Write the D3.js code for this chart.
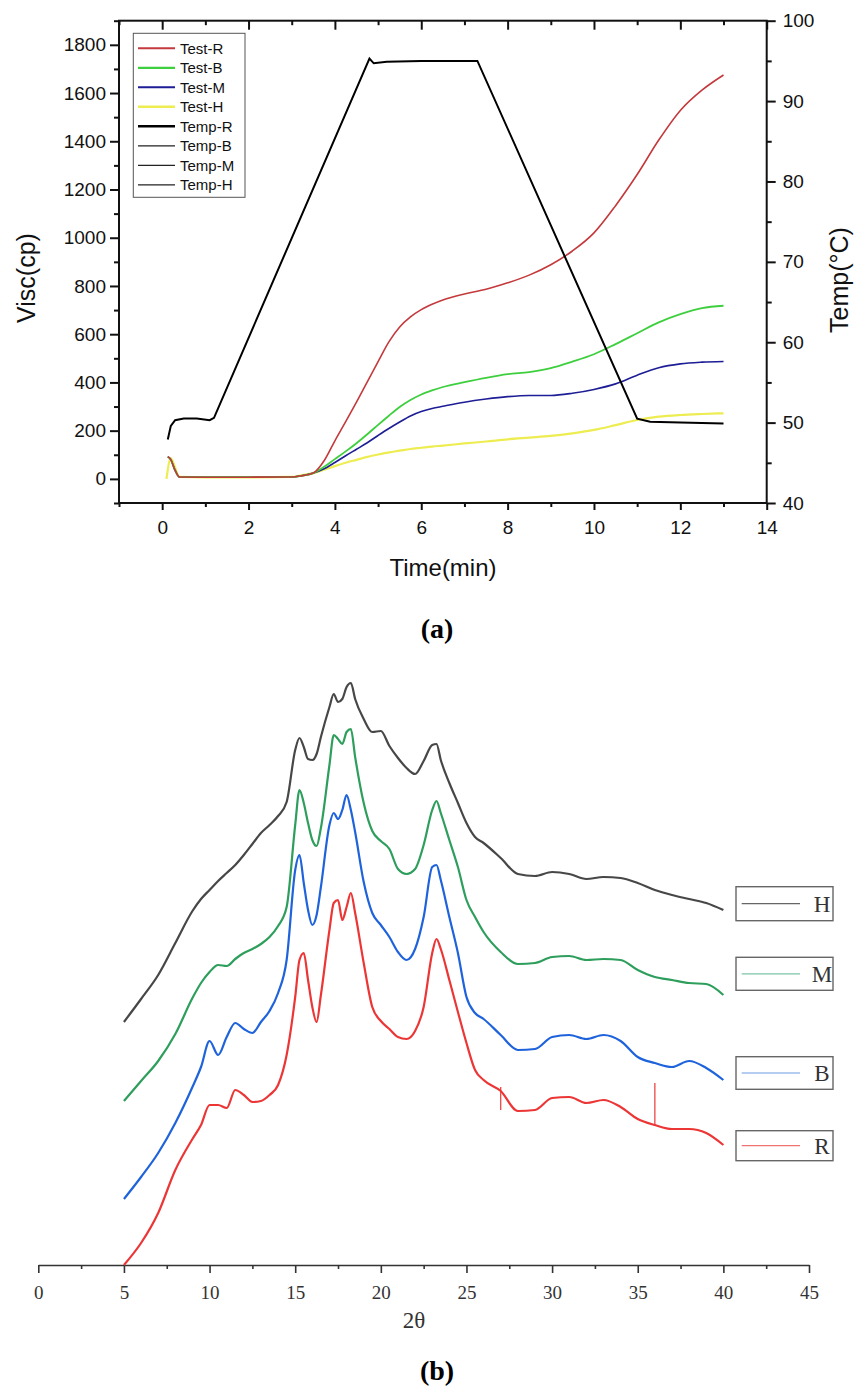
<!DOCTYPE html>
<html><head><meta charset="utf-8">
<script src="https://cdn.jsdelivr.net/npm/d3@7"></script>
<style>body{margin:0;background:#fff}svg{display:block}</style>
</head><body>
<svg id="chart" width="856" height="1387"></svg>
<script>
// ---------- Panel (a): viscosity / temperature ----------
const timeTest = [0.13,0.2,0.3,0.4,1,2,3,3.2,3.5,3.75,4.0,4.25,4.5,4.75,5.0,5.25,5.5,5.75,6.0,6.25,6.5,7.0,7.5,8.0,8.5,9.0,9.5,10.0,10.5,11.0,11.5,12.0,12.5,13.0];
const viscR = [92,80,35,8,7,7,8,12,24,75,158,237,318,402,486,568,630,672,702,724,742,767,786,813,845,888,945,1020,1133,1262,1405,1528,1612,1675];
const viscB = [92,80,35,8,7,7,8,12,24,50,82,114,148,185,224,262,298,327,350,367,381,401,419,434,443,459,486,517,559,604,649,683,708,718];
const viscM = [92,80,35,8,7,7,8,12,24,42,68,96,123,150,180,209,236,261,279,292,301,318,331,341,346,346,355,371,394,430,461,477,484,487];
const timeH = [0.1,0.2,0.25,0.4,1,2,3,3.2,3.5,3.75,4.0,4.25,4.5,4.75,5.0,5.25,5.5,5.75,6.0,6.25,6.5,7.0,7.5,8.0,8.5,9.0,9.5,10.0,10.5,11.0,11.5,12.0,12.5,13.0];
const viscH = [0,86,70,8,6,6,8,14,24,38,53,67,79,91,101,110,117,124,129,134,138,147,155,164,171,178,189,203,223,244,258,265,269,272];
const timeTemp = [0.13,0.2,0.3,0.5,0.8,1.1,1.2,4.8,4.9,5.2,6.0,7.3,11.0,11.3,12.0,13.0];
const tempR = [47.9,49.6,50.3,50.5,50.5,50.3,50.6,95.3,94.7,94.9,95.0,95.0,50.5,50.1,50.0,49.9];
const timeTicks = [0,2,4,6,8,10,12,14];
const timeMinor = [-1,1,3,5,7,9,11,13];
const viscTicks = [0,200,400,600,800,1000,1200,1400,1600,1800];
const viscMinor = [-100,100,300,500,700,900,1100,1300,1500,1700,1900];
const tempTicks = [40,50,60,70,80,90,100];
const tempMinor = [45,55,65,75,85,95];
const legendA = ["Test-R","Test-B","Test-M","Test-H","Temp-R","Temp-B","Temp-M","Temp-H"];

// ---------- Panel (b): XRD ----------
const theta = [5,6,7,8,9,9.5,10,10.5,11,11.5,12,12.5,13,13.5,14,14.5,15,15.25,15.5,15.75,16,16.25,16.5,17,17.25,17.5,17.75,18,18.25,18.5,19,19.5,20,20.5,21,21.5,22,22.5,23,23.25,23.5,24,24.5,25,25.5,26,27,28,29,30,31,32,33,34,35,36,37,38,39,40];
const xrdH = [243,266,290,322,354,366,375,384,392,400,410,421,432,440,449,463,515,527,518,506,505,511,528,558,571,563,566,578,582,566,546,533,534,519,507,497,491,504,520,521,505,482,462,442,428,422,407,391,389,393,391,386,388,387,382,375,370,366,362,355];
const xrdM = [164,184,204,231,267,282,293,300,299,306,312,316,321,328,339,358,440,475,462,442,425,419,437,500,530,526,521,533,536,508,462,434,424,416,396,391,396,420,455,464,452,425,398,365,348,333,313,301,302,308,309,305,306,305,295,288,285,282,281,270];
const xrdB = [66,88,112,142,178,198,224,210,228,242,236,232,243,254,272,305,395,410,382,355,340,350,378,440,452,446,455,470,455,433,383,352,340,328,313,305,316,348,398,400,385,348,312,268,252,246,230,215,216,228,230,226,230,224,208,202,198,204,197,185];
const xrdR = [0,22,52,95,126,140,160,160,157,175,170,163,164,170,180,210,268,305,312,285,258,243,270,335,362,365,345,358,372,352,302,258,244,236,228,226,234,258,312,326,316,285,253,222,195,185,174,154,155,167,168,162,165,158,146,140,136,136,132,120];
const spikeTheta = [27.0,36.0];
const spikeBase = [178,140];
const spikeTop = [155,182];
const thetaTicks = [0,5,10,15,20,25,30,35,40,45];
const thetaMinor = [2.5,7.5,12.5,17.5,22.5,27.5,32.5,37.5,42.5];
const legendB = ["H","M","B","R"];

const svg = d3.select("#chart");
const sans = "Liberation Sans, Arial, sans-serif";
const serif = "Liberation Serif, Times New Roman, serif";

// ===== Panel (a) =====
const L = 119, R = 766.7, T = 20.7, B = 503;
const x = d3.scaleLinear().domain([-1,14]).range([L,R]);
const yV = d3.scaleLinear().domain([-100,1900]).range([B,T]);
const yT = d3.scaleLinear().domain([40,100]).range([B,T]);

function styleAxis(g, font, size, color){
  g.select(".domain").remove();
  g.selectAll("line").attr("stroke", color).attr("stroke-width", 2);
  g.selectAll("text").attr("font-family", font).attr("font-size", size).attr("fill", color);
}
const ga = svg.append("g");
ga.append("g").attr("transform",`translate(0,${B})`)
  .call(d3.axisBottom(x).tickValues(timeTicks).tickSize(7).tickPadding(11).tickFormat(d3.format("d")))
  .call(g=>styleAxis(g,sans,19,"#111"));
ga.append("g").attr("transform",`translate(0,${B})`)
  .call(d3.axisBottom(x).tickValues(timeMinor).tickSize(4).tickFormat(""))
  .call(g=>styleAxis(g,sans,19,"#111"));
ga.append("g").attr("transform",`translate(0,${T})`)
  .call(d3.axisBottom(x).tickValues(timeTicks).tickSize(9).tickFormat(""))
  .call(g=>styleAxis(g,sans,19,"#111"));
ga.append("g").attr("transform",`translate(0,${T})`)
  .call(d3.axisBottom(x).tickValues(timeMinor).tickSize(4.5).tickFormat(""))
  .call(g=>styleAxis(g,sans,19,"#111"));
ga.append("g").attr("transform",`translate(${L},0)`)
  .call(d3.axisLeft(yV).tickValues(viscTicks).tickSize(9).tickPadding(4).tickFormat(d3.format("d")))
  .call(g=>styleAxis(g,sans,19,"#111"));
ga.append("g").attr("transform",`translate(${L},0)`)
  .call(d3.axisLeft(yV).tickValues(viscMinor).tickSize(5).tickFormat(""))
  .call(g=>styleAxis(g,sans,19,"#111"));
ga.append("g").attr("transform",`translate(${R},0)`)
  .call(d3.axisRight(yT).tickValues(tempTicks).tickSize(9).tickPadding(7).tickFormat(d3.format("d")))
  .call(g=>styleAxis(g,sans,19,"#111"));
ga.append("g").attr("transform",`translate(${R},0)`)
  .call(d3.axisRight(yT).tickValues(tempMinor).tickSize(5).tickFormat(""))
  .call(g=>styleAxis(g,sans,19,"#111"));
ga.append("rect").attr("x",L).attr("y",T).attr("width",R-L).attr("height",B-T)
  .attr("fill","none").attr("stroke","#111").attr("stroke-width",2);

const lineV = (tArr)=>d3.line().x((d,i)=>x(tArr[i])).y(d=>yV(d)).curve(d3.curveMonotoneX);
svg.append("clipPath").attr("id","clipA").append("rect").attr("x",L).attr("y",T).attr("width",R-L).attr("height",B-T);
const plotA = svg.append("g").attr("clip-path","url(#clipA)");
plotA.append("path").datum(viscH).attr("d",lineV(timeH)).attr("fill","none").attr("stroke","#eded52").attr("stroke-width",2.2);
plotA.append("path").datum(viscM).attr("d",lineV(timeTest)).attr("fill","none").attr("stroke","#1d1d96").attr("stroke-width",1.6);
plotA.append("path").datum(viscB).attr("d",lineV(timeTest)).attr("fill","none").attr("stroke","#3ecf3e").attr("stroke-width",1.8);
plotA.append("path").datum(viscR).attr("d",lineV(timeTest)).attr("fill","none").attr("stroke","#c4393c").attr("stroke-width",1.6);
plotA.append("path").datum(tempR)
  .attr("d",d3.line().x((d,i)=>x(timeTemp[i])).y(d=>yT(d)))
  .attr("fill","none").attr("stroke","#000").attr("stroke-width",2);

svg.append("text").attr("transform","translate(35,278) rotate(-90)").attr("text-anchor","middle")
  .attr("font-family",sans).attr("font-size",25).attr("fill","#111").text("Visc(cp)");
svg.append("text").attr("transform","translate(848,280) rotate(-90)").attr("text-anchor","middle")
  .attr("font-family",sans).attr("font-size",25).attr("fill","#111").text("Temp(°C)");
svg.append("text").attr("x",443).attr("y",576).attr("text-anchor","middle")
  .attr("font-family",sans).attr("font-size",24).attr("fill","#111").text("Time(min)");

const legColors = ["#c4393c","#3ecf3e","#1d1d96","#eded52","#000","#222","#222","#222"];
const legWidths = [2,2.2,2,2.6,2.4,1.3,1.3,1.3];
const lg = svg.append("g");
lg.append("rect").attr("x",133.3).attr("y",33.3).attr("width",111.7).attr("height",164)
  .attr("fill","#fff").attr("stroke","#555").attr("stroke-width",1);
legendA.forEach((name,i)=>{
  const yy = 48.3 + i*19.5;
  lg.append("line").attr("x1",138).attr("x2",175).attr("y1",yy).attr("y2",yy)
    .attr("stroke",legColors[i]).attr("stroke-width",legWidths[i]);
  lg.append("text").attr("x",180).attr("y",yy).attr("dy","0.35em")
    .attr("font-family",sans).attr("font-size",15).attr("fill","#111").text(name);
});

svg.append("text").attr("x",437).attr("y",638).attr("text-anchor","middle")
  .attr("font-family",serif).attr("font-size",28).attr("font-weight","bold").attr("fill","#000").text("(a)");

// ===== Panel (b) =====
const xb = d3.scaleLinear().domain([0,45]).range([38.3,809]);
const yb = d3.scaleLinear().domain([0,700]).range([1265,565]);
const gb = svg.append("g");
gb.append("g").attr("transform","translate(0,1265)")
  .call(d3.axisBottom(xb).tickValues(thetaTicks).tickSize(8).tickSizeOuter(0).tickPadding(13).tickFormat(d3.format("d")))
  .call(g=>{
    g.select(".domain").attr("stroke","#333").attr("stroke-width",1.6);
    g.selectAll("line").attr("stroke","#333").attr("stroke-width",1.6);
    g.selectAll("text").attr("font-family",serif).attr("font-size",19).attr("fill","#333");
  });
gb.append("g").attr("transform","translate(0,1265)")
  .call(d3.axisBottom(xb).tickValues(thetaMinor).tickSize(4).tickFormat(""))
  .call(g=>{ g.select(".domain").remove(); g.selectAll("line").attr("stroke","#333").attr("stroke-width",1.6); });

const lineB = d3.line().x((d,i)=>xb(theta[i])).y(d=>yb(d)).curve(d3.curveMonotoneX);
const xrdSeries = [[xrdH,"#474747"],[xrdM,"#2e9e5c"],[xrdB,"#1e63db"],[xrdR,"#ec3636"]];
xrdSeries.forEach(([arr,col])=>{
  gb.append("path").datum(arr).attr("d",lineB).attr("fill","none")
    .attr("stroke",col).attr("stroke-width",2.2).attr("stroke-linejoin","round");
});
spikeTheta.forEach((t,i)=>{
  gb.append("line").attr("x1",xb(t)).attr("x2",xb(t)).attr("y1",yb(spikeBase[i])).attr("y2",yb(spikeTop[i]))
    .attr("stroke","#ec3636").attr("stroke-width",1.2);
});

svg.append("text").attr("x",414).attr("y",1328).attr("text-anchor","middle")
  .attr("font-family",serif).attr("font-size",23).attr("fill","#333").text("2θ");

const boxY = [886.7,957.3,1056.7,1130.7];
const boxH = [34,33,32.6,30];
const boxCol = ["#666","#7cc4a6","#6f9ce6","#f07272"];
legendB.forEach((name,i)=>{
  const cy = boxY[i] + boxH[i]/2;
  gb.append("rect").attr("x",736).attr("y",boxY[i]).attr("width",97).attr("height",boxH[i])
    .attr("fill","#fff").attr("stroke","#666").attr("stroke-width",1.4);
  gb.append("line").attr("x1",741.7).attr("x2",800).attr("y1",cy).attr("y2",cy)
    .attr("stroke",boxCol[i]).attr("stroke-width",1.2);
  gb.append("text").attr("x",822).attr("y",cy).attr("dy","0.35em").attr("text-anchor","middle")
    .attr("font-family",serif).attr("font-size",23).attr("fill","#333").text(name);
});

svg.append("text").attr("x",437).attr("y",1380).attr("text-anchor","middle")
  .attr("font-family",serif).attr("font-size",28).attr("font-weight","bold").attr("fill","#000").text("(b)");
</script>
</body></html>
